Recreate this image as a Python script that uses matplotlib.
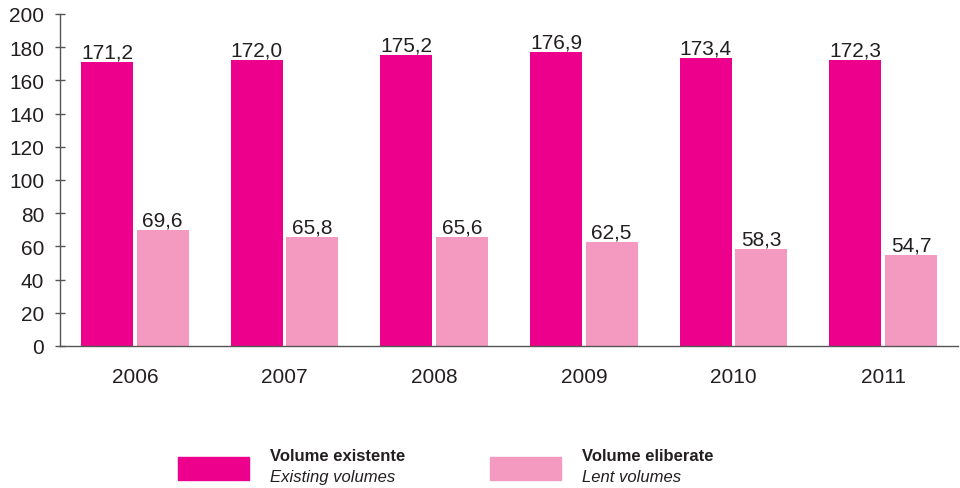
import matplotlib
matplotlib.use("Agg")
import matplotlib.pyplot as plt
from matplotlib.patches import Rectangle
import numpy as np

plt.rcParams['font.family'] = ['Liberation Sans', 'DejaVu Sans']

years = ["2006", "2007", "2008", "2009", "2010", "2011"]
existing = [171.2, 172.0, 175.2, 176.9, 173.4, 172.3]
lent = [69.6, 65.8, 65.6, 62.5, 58.3, 54.7]
series_titles = ["Volume existente", "Volume eliberate"]
series_sub = ["Existing volumes", "Lent volumes"]
colors = ["#EC008C", "#F49AC1"]
yticks = list(range(0, 201, 20))

fig = plt.figure(figsize=(9.6, 4.89), dpi=100)
ax = fig.add_axes([60/960, 1-347/489, 898/960, 332/489])

x = np.arange(len(years))
w = 0.347
off = 0.186
b1 = ax.bar(x - off, existing, width=w, color=colors[0])
b2 = ax.bar(x + off, lent, width=w, color=colors[1])

for bars, vals in ((b1, existing), (b2, lent)):
    for r, v in zip(bars, vals):
        ax.text(r.get_x() + r.get_width()/2, v + 0.3, f"{v:.1f}".replace('.', ','),
                ha='center', va='bottom', fontsize=15, color='#231F20')

ax.set_xlim(-0.5, len(years) - 0.5)
ax.set_ylim(0, 200)
ax.set_yticks(yticks)
ax.set_yticklabels([str(t) for t in yticks], fontsize=15, color='#231F20')
ax.set_xticks(x)
ax.set_xticklabels(years, fontsize=15, color='#231F20')
ax.tick_params(axis='x', length=0, pad=15)
ax.tick_params(axis='y', direction='inout', length=7, width=1, color='#555555', pad=8)
for s in ('top', 'right'):
    ax.spines[s].set_visible(False)
for s in ('left', 'bottom'):
    ax.spines[s].set_color('#555555')
    ax.spines[s].set_linewidth(1)

# legend
leg_x = [178, 490]
for i in range(2):
    fig.patches.append(Rectangle((leg_x[i]/960, 1-481/489), 71/960, 23/489,
                                 transform=fig.transFigure, color=colors[i]))
    fig.text((leg_x[i]+92)/960, 1-457/489, series_titles[i], fontsize=12,
             fontweight='bold', va='center', ha='left', color='#231F20')
    fig.text((leg_x[i]+92)/960, 1-478/489, series_sub[i], fontsize=12,
             fontstyle='italic', va='center', ha='left', color='#231F20')

fig.savefig("out.png", dpi=100)
